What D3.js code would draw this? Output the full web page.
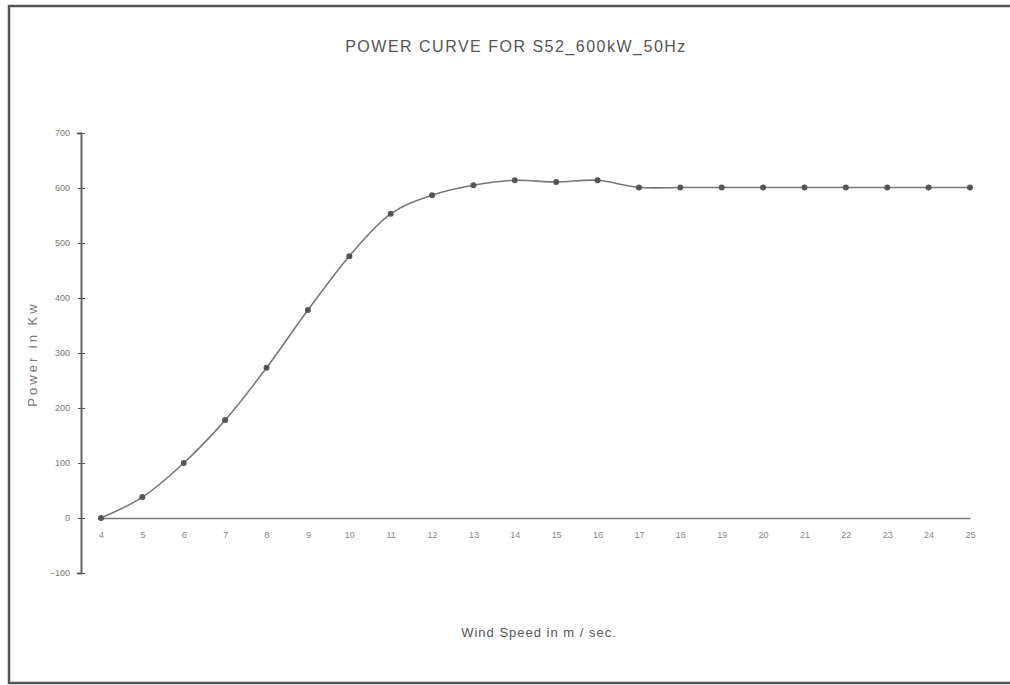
<!DOCTYPE html>
<html>
<head>
<meta charset="utf-8">
<script src="https://cdn.jsdelivr.net/npm/d3@7"></script>
<style>
  body { margin: 0; background: #fff; }
  svg text { font-family: "Liberation Sans", Arial, sans-serif; fill: #666; }
</style>
</head>
<body>
<div id="chart"></div>
<script>
var windSpeed = [4, 5, 6, 7, 8, 9, 10, 11, 12, 13, 14, 15, 16, 17, 18, 19, 20, 21, 22, 23, 24, 25];
var powerKw = [0, 38, 100, 178, 273, 378, 476, 553, 587, 605, 614, 611, 614, 601, 601, 601, 601, 601, 601, 601, 601, 601];
var yTicks = [-100, 0, 100, 200, 300, 400, 500, 600, 700];

var width = 1010, height = 685;
var svg = d3.select('#chart').append('svg')
    .attr('width', width)
    .attr('height', height);

// outer frame of the scanned chart
svg.append('rect')
    .attr('x', 9).attr('y', 6)
    .attr('width', 1010).attr('height', 677)
    .attr('fill', 'none')
    .attr('stroke', '#555')
    .attr('stroke-width', 2.5);

var x = d3.scalePoint().domain(windSpeed).range([101, 970]);
var y = d3.scaleLinear().domain([-100, 700]).range([573, 133]);

// y axis
var yAxis = svg.append('g')
    .attr('transform', 'translate(81,0)')
    .call(d3.axisLeft(y).tickValues(yTicks).tickSize(4).tickPadding(7));
yAxis.select('.domain').attr('stroke', '#666').attr('stroke-width', 2);
yAxis.selectAll('.tick line').attr('stroke', '#555').attr('x2', 4).attr('x1', -3);
yAxis.selectAll('.tick text').style('font-size', '9px').style('fill', '#777');

// x axis along zero
var xAxis = svg.append('g')
    .attr('transform', 'translate(0,' + y(0) + ')')
    .call(d3.axisBottom(x).tickSize(0).tickPadding(14));
xAxis.select('.domain').attr('stroke', '#777').attr('stroke-width', 1.3);
xAxis.selectAll('.tick text').style('font-size', '9px').style('fill', '#888');

// power curve (smoothed like the spreadsheet original)
var line = d3.line()
    .x(function (d, i) { return x(windSpeed[i]); })
    .y(function (d) { return y(d); })
    .curve(d3.curveCatmullRom);

svg.append('path')
    .datum(powerKw)
    .attr('d', line)
    .attr('fill', 'none')
    .attr('stroke', '#777')
    .attr('stroke-width', 1.6);

svg.selectAll('circle.pt')
    .data(powerKw)
    .enter().append('circle')
    .attr('class', 'pt')
    .attr('cx', function (d, i) { return x(windSpeed[i]); })
    .attr('cy', function (d) { return y(d); })
    .attr('r', 3)
    .attr('fill', '#555');

// titles
svg.append('text')
    .attr('x', 516).attr('y', 52)
    .attr('text-anchor', 'middle')
    .style('font-size', '16px')
    .style('letter-spacing', '1.5px')
    .style('fill', '#555')
    .text('POWER CURVE FOR S52_600kW_50Hz');

svg.append('text')
    .attr('x', 539).attr('y', 637)
    .attr('text-anchor', 'middle')
    .style('font-size', '13px')
    .style('letter-spacing', '1px')
    .style('fill', '#555')
    .text('Wind Speed in m / sec.');

svg.append('text')
    .attr('transform', 'translate(37,354) rotate(-90)')
    .attr('text-anchor', 'middle')
    .style('font-size', '13px')
    .style('fill', '#777')
    .style('letter-spacing', '3px')
    .text('Power in Kw');
</script>
</body>
</html>
